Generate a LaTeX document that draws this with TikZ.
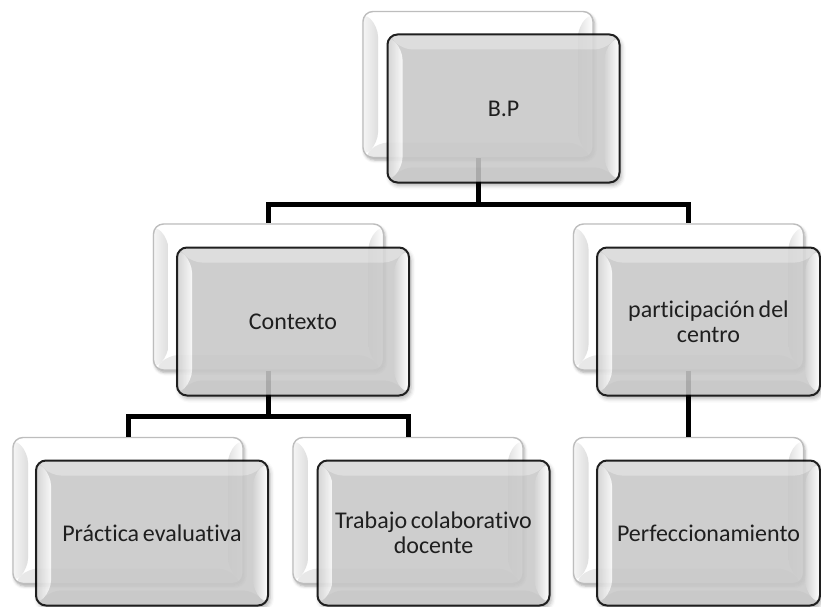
\documentclass[tikz,border=0pt]{standalone}
\usepackage{fontspec}
\setmainfont{Carlito}[Ligatures=NoCommon, WordSpace=0.7]
\usetikzlibrary{shadows.blur}

\definecolor{frontmid}{HTML}{C8C8C8}
\definecolor{backedge}{HTML}{BDBDBD}

% Bevelled frame drawn inside a node's path:
% #1 top strip, #2 bottom strip, #3/#4 left strip (outer/inner), #5/#6 right strip (inner/outer)
\newlength{\bvdepth}
\setlength{\bvdepth}{15pt}
\newcommand{\drawbevel}[6]{%
  \coordinate (oNW) at (path picture bounding box.north west);
  \coordinate (oNE) at (path picture bounding box.north east);
  \coordinate (oSW) at (path picture bounding box.south west);
  \coordinate (oSE) at (path picture bounding box.south east);
  \coordinate (iNW) at ([xshift=\bvdepth,yshift=-\bvdepth]oNW);
  \coordinate (iNE) at ([xshift=-\bvdepth,yshift=-\bvdepth]oNE);
  \coordinate (iSW) at ([xshift=\bvdepth,yshift=\bvdepth]oSW);
  \coordinate (iSE) at ([xshift=-\bvdepth,yshift=\bvdepth]oSE);
  \fill[#1] (oNW) -- (oNE) -- (iNE) -- (iNW) -- cycle;
  \fill[#2] (oSW) -- (oSE) -- (iSE) -- (iSW) -- cycle;
  \fill[left color=#3, right color=#4] (oNW) -- (iNW) -- (iSW) -- (oSW) -- cycle;
  \fill[left color=#5, right color=#6] (oNE) -- (iNE) -- (iSE) -- (oSE) -- cycle;
}

\tikzset{
  backbox/.style={rectangle, rounded corners=10pt, inner sep=0pt,
    minimum width=230pt, minimum height=146pt,
    fill=white, draw=backedge, line width=1.4pt,
    blur shadow={shadow xshift=1.5pt, shadow yshift=-2.5pt,
      shadow blur radius=3pt, shadow opacity=35},
    path picture={\drawbevel{white}{black!9}{black!4}{black!13}{black!12}{white}}},
  frontbox/.style={rectangle, rounded corners=10pt, inner sep=2pt,
    minimum width=232pt, minimum height=148pt,
    fill=frontmid, draw=black, line width=2pt,
    align=center, font=\fontsize{24pt}{25pt}\selectfont,
    blur shadow={shadow xshift=2pt, shadow yshift=-3pt,
      shadow blur radius=4pt, shadow opacity=35},
    path picture={\drawbevel{black!15}{black!24}{black!19}{black!3}{black!20}{white}}},
  conn/.style={draw=black, line width=5pt},
}

\begin{document}
\begin{tikzpicture}[x=1pt, y=-1pt]
  \useasboundingbox (0,0) rectangle (821,607);

  % back layer of each entry
  \node[backbox] (bpB)  at (478,84.5) {};
  \node[backbox] (ctxB) at (268.5,297) {};
  \node[backbox] (parB) at (688.5,297) {};
  \node[backbox] (praB) at (128,510.5) {};
  \node[backbox] (traB) at (408,510.5) {};
  \node[backbox] (perB) at (688.5,510.5) {};

  % junctions of the tree
  \coordinate (j1) at (478,204);
  \coordinate (j2) at (268.5,416);

  % connectors
  \draw[conn] (bpB.south) -- (j1) -| (ctxB.north);
  \draw[conn] (j1) -| (parB.north);
  \draw[conn] (ctxB.south) -- (j2) -| (praB.north);
  \draw[conn] (j2) -| (traB.north);
  \draw[conn] (parB.south) -- (perB.north);

  % front layer, slightly see-through
  \begin{scope}[transparency group, opacity=0.88]
    \node[frontbox] (bp)  at (503.5,108.5) {B.P};
    \node[frontbox] (ctx) at (293,321.5) {Contexto};
    \node[frontbox, minimum width=223pt] (par) at (708.5,321.5) {participación del\\centro};
    \node[frontbox, minimum height=145pt] (pra) at (152,533) {Práctica evaluativa};
    \node[frontbox, minimum height=145pt] (tra) at (433.5,533) {Trabajo colaborativo\\docente};
    \node[frontbox, minimum width=223pt, minimum height=145pt] (per) at (708.5,533) {Perfeccionamiento};
  \end{scope}
\end{tikzpicture}
\end{document}
